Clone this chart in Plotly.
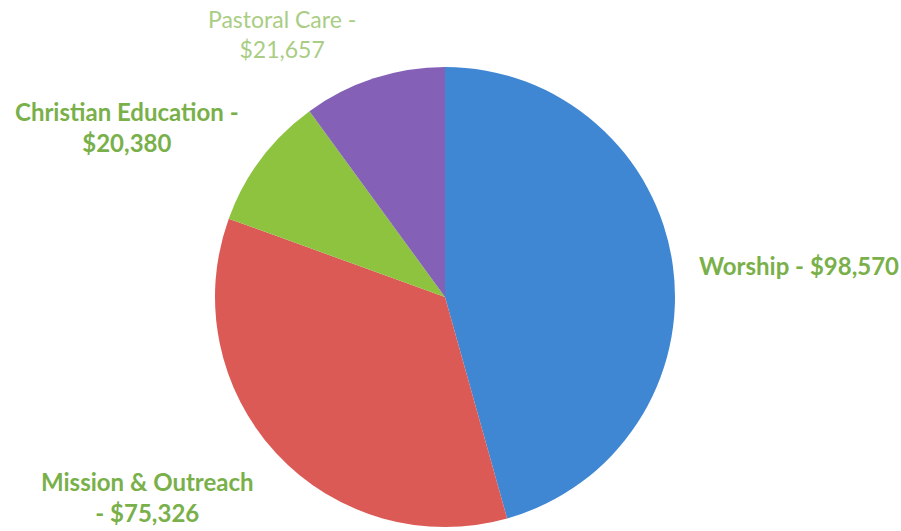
import plotly.graph_objects as go

categories = ["Worship", "Mission & Outreach", "Christian Education", "Pastoral Care"]
values = [98570, 75326, 20380, 21657]
colors = ["#3F86D3", "#DC5A55", "#8DC33F", "#8461B6"]

W, H = 901, 531
cx, cy, r = 445, 297, 230

fig = go.Figure(go.Pie(
    labels=categories,
    values=values,
    sort=False,
    direction="clockwise",
    rotation=0,
    marker=dict(colors=colors, line=dict(width=0)),
    textinfo="none",
    hoverinfo="label+value",
    showlegend=False,
    domain=dict(x=[(cx - r) / W, (cx + r) / W], y=[(H - cy - r) / H, (H - cy + r) / H]),
))

def fmt(v):
    return "${:,}".format(v)

label_texts = {
    "Worship": f"{categories[0]} - {fmt(values[0])}",
    "Mission & Outreach": f"{categories[1]}<br>- {fmt(values[1])}",
    "Christian Education": f"{categories[2]} -<br>{fmt(values[2])}",
    "Pastoral Care": f"{categories[3]} -<br>{fmt(values[3])}",
}
label_pos = {
    "Worship": (697, 265, "left"),
    "Mission & Outreach": (147, 497, "center"),
    "Christian Education": (127, 127, "center"),
    "Pastoral Care": (282, 34, "center"),
}
green = "#79B04A"
for cat in categories:
    x, y, anc = label_pos[cat]
    faded = cat == "Pastoral Care"
    txt = label_texts[cat]
    if not faded:
        txt = "<b>" + txt.replace("<br>", "</b><br><b>") + "</b>"
    fig.add_annotation(
        x=x / W, y=1 - y / H, xref="paper", yref="paper",
        text=txt, showarrow=False, xanchor=anc, yanchor="middle", align="center",
        font=dict(family="Lato", size=24 if not faded else 23, color="#A9CD84" if faded else green),
    )

fig.update_layout(
    width=W, height=H,
    margin=dict(l=0, r=0, t=0, b=0),
    paper_bgcolor="white", plot_bgcolor="white",
)
fig.write_html("out.html", config={"displayModeBar": False},
               post_script="document.body.style.margin='0';")
